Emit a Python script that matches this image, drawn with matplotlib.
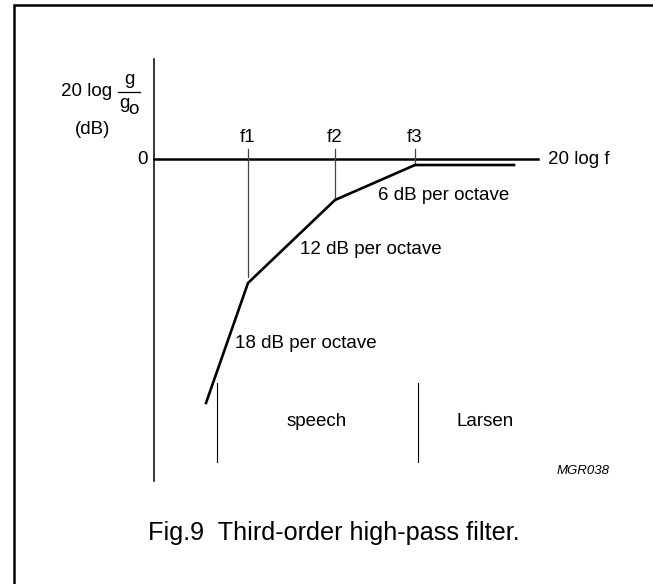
import matplotlib.pyplot as plt

plt.rcParams['font.family'] = ['Liberation Sans', 'DejaVu Sans']

# schematic coordinates (drawing units, y grows downwards)
curve_x = [206, 248, 335, 415, 514]
curve_y = [403, 283, 200, 165, 165]

corner_labels = ['f1', 'f2', 'f3']
corner_x = [248, 335, 415]
corner_bottom = [277, 200, 165]

slope_labels = ['18 dB per octave', '12 dB per octave', '6 dB per octave']
slope_x = [235, 300, 378]
slope_y = [343, 250, 196]

band_labels = ['speech', 'Larsen']
band_x = [317, 485]
band_edges = [217, 418]

fs = 13.5

fig = plt.figure(figsize=(6.53, 5.84), dpi=100)
ax = fig.add_axes([0, 0, 1, 1])
ax.set_xlim(0, 653)
ax.set_ylim(584, 0)
ax.axis('off')

# frame (left + top only)
ax.plot([14, 14, 653], [584, 5, 5], color='black', lw=1.8, solid_joinstyle='miter')

# axes
ax.plot([154, 154], [59, 481], color='black', lw=1.1)
ax.plot([154, 538], [159, 159], color='black', lw=1.8)
ax.text(143, 160, '0', fontsize=fs, ha='center', va='center')
ax.text(548, 160, '20 log f', fontsize=fs, ha='left', va='center')

# y label: 20 log g/go (dB)
ax.text(112, 92, '20 log', fontsize=fs, ha='right', va='center')
ax.plot([118, 140], [92, 92], color='black', lw=0.9)
ax.text(129, 80, 'g', fontsize=fs, ha='center', va='center')
ax.text(124, 104, 'g', fontsize=fs, ha='center', va='center')
ax.text(133, 110, 'o', fontsize=fs, ha='center', va='center')
ax.text(93, 130, '(dB)', fontsize=fs, ha='center', va='center')

# corner frequency markers
for lab, x, yb in zip(corner_labels, corner_x, corner_bottom):
    ax.plot([x, x], [149, yb], color='#444444', lw=0.9)
    ax.text(x, 138, lab, fontsize=fs, ha='center', va='center')

# response curve
ax.plot(curve_x, curve_y, color='black', lw=1.9, solid_joinstyle='miter')

for lab, x, y in zip(slope_labels, slope_x, slope_y):
    ax.text(x, y, lab, fontsize=fs, ha='left', va='center')

# bands
for x in band_edges:
    ax.plot([x, x], [383, 462], color='black', lw=0.8)
for lab, x in zip(band_labels, band_x):
    ax.text(x, 421, lab, fontsize=fs, ha='center', va='center')

ax.text(610, 471, 'MGR038', fontsize=9.5, style='italic', ha='right', va='center')

ax.text(148, 533, 'Fig.9  Third-order high-pass filter.', fontsize=18.2,
        ha='left', va='center')

fig.savefig('out.png', dpi=100)
